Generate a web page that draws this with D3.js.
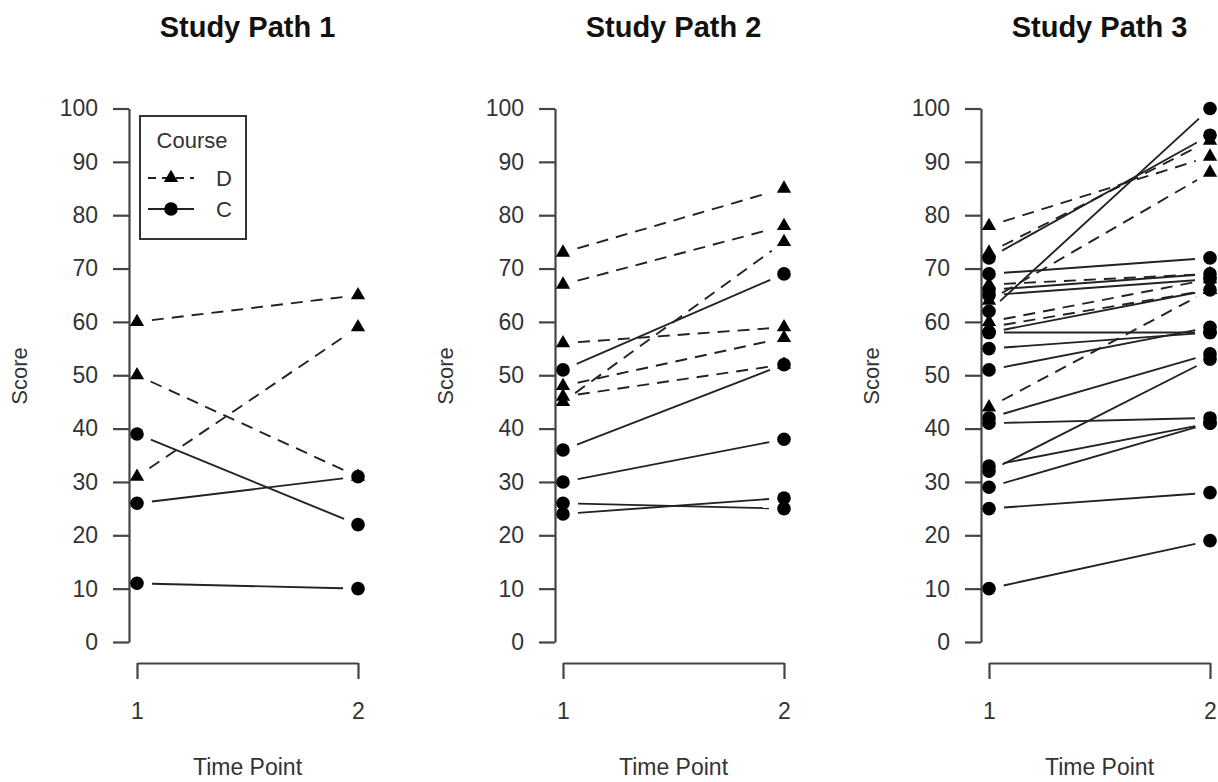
<!DOCTYPE html>
<html lang="en">
<head>
<meta charset="UTF-8">
<title>Study Paths</title>
<script src="https://d3js.org/d3.v7.min.js"></script>
<style>
    body { margin: 0; background: #fff; }
    text { font-family: "Liberation Sans", Arial, sans-serif; fill: #333; }
    .title { font-weight: bold; font-size: 29px; fill: #111; }
    .axis text { font-size: 23px; fill: #333; font-family: "Liberation Sans", Arial, sans-serif; }
    .axis path, .axis line { stroke: #444; stroke-width: 2.2; }
    .lab { font-size: 22px; }
</style>
</head>
<body>
<svg width="1218" height="782"></svg>

<script>
    // titles and ticks
    const panelTitles = ["Study Path 1", "Study Path 2", "Study Path 3"];
    const timePoints = [1, 2];
    const yTickValues = [0, 10, 20, 30, 40, 50, 60, 70, 80, 90, 100];
    const legendLabels = ["D", "C"];

    // [score at time 1, score at time 2], course D (dashed) and C (solid)
    const path1D = [[60, 65], [50, 31], [31, 59]];
    const path1C = [[39, 22], [26, 31], [11, 10]];

    const path2D = [[73, 85], [67, 78], [56, 59], [48, 57], [46, 52], [45, 75]];
    const path2C = [[51, 69], [36, 52], [30, 38], [26, 25], [24, 27]];

    const path3D = [[78, 91], [73, 94], [64, 88], [67, 69], [60, 68], [59, 66], [44, 66]];
    const path3C = [[72, 95], [62, 100], [69, 72], [66, 69], [65, 68], [58, 66], [58, 58],
                    [55, 58], [51, 59], [42, 54], [41, 42], [33, 41], [32, 53], [29, 41],
                    [25, 28], [10, 19]];

    const panelsD = [path1D, path2D, path3D];
    const panelsC = [path1C, path2C, path3C];

    const svg = d3.select("svg");
    svg.append("rect").attr("width", 1218).attr("height", 782).attr("fill", "#fff");

    const shift = 426;
    const x = d3.scaleLinear().domain([1, 2]).range([137, 358]);
    const y = d3.scaleLinear().domain([0, 100]).range([642, 108.5]);

    const gap = 15;
    const triangle = d3.symbol().type(d3.symbolTriangle).size(88);

    // segment between two points, shortened at both ends (like type="b")
    function gapped(x1, y1, x2, y2) {
        const dx = x2 - x1, dy = y2 - y1, len = Math.hypot(dx, dy);
        const ux = dx / len, uy = dy / len;
        return [x1 + ux * gap, y1 + uy * gap, x2 - ux * gap, y2 - uy * gap];
    }

    panelTitles.forEach(function (title, i) {
        const g = svg.append("g").attr("transform", "translate(" + (i * shift) + ",0)");

        g.append("text").attr("class", "title")
            .attr("x", (x(1) + x(2)) / 2).attr("y", 37)
            .attr("text-anchor", "middle").text(title);

        g.append("g").attr("class", "axis")
            .attr("transform", "translate(129,0)")
            .call(d3.axisLeft(y).tickValues(yTickValues).tickSize(16)
                .tickSizeOuter(0).tickPadding(15));

        g.append("g").attr("class", "axis")
            .attr("transform", "translate(0,663)")
            .call(d3.axisBottom(x).tickValues(timePoints).tickSize(16)
                .tickSizeOuter(0).tickPadding(24).tickFormat(d3.format("d")));

        g.append("text").attr("class", "lab")
            .attr("transform", "translate(27,376) rotate(-90)")
            .attr("text-anchor", "middle").text("Score");

        g.append("text").attr("class", "lab").style("font-size", "23px")
            .attr("x", (x(1) + x(2)) / 2).attr("y", 775)
            .attr("text-anchor", "middle").text("Time Point");

        const series = [
            {data: panelsD[i], dash: "12,8", mark: "tri"},
            {data: panelsC[i], dash: null, mark: "dot"}
        ];

        series.forEach(function (s) {
            g.append("g").selectAll("line")
                .data(s.data)
                .enter().append("line")
                .each(function (d) {
                    const p = gapped(x(1), y(d[0]), x(2), y(d[1]));
                    d3.select(this).attr("x1", p[0]).attr("y1", p[1])
                        .attr("x2", p[2]).attr("y2", p[3]);
                })
                .attr("stroke", "#222")
                .attr("stroke-width", 1.9)
                .attr("stroke-dasharray", s.dash);
        });

        series.forEach(function (s) {
            const pts = [];
            s.data.forEach(function (d) {
                pts.push([1, d[0]]);
                pts.push([2, d[1]]);
            });
            const mg = g.append("g");
            if (s.mark === "tri") {
                mg.selectAll("path").data(pts).enter().append("path")
                    .attr("d", triangle)
                    .attr("transform", function (d) { return "translate(" + x(d[0]) + "," + y(d[1]) + ")"; })
                    .attr("fill", "#000");
            } else {
                mg.selectAll("circle").data(pts).enter().append("circle")
                    .attr("cx", function (d) { return x(d[0]); })
                    .attr("cy", function (d) { return y(d[1]); })
                    .attr("r", 6.8)
                    .attr("fill", "#000");
            }
        });
    });

    // legend (first panel)
    const lg = svg.append("g");
    lg.append("rect").attr("x", 140).attr("y", 116).attr("width", 106).attr("height", 123)
        .attr("fill", "#fff").attr("stroke", "#333").attr("stroke-width", 2);
    lg.append("text").attr("class", "lab").attr("x", 192).attr("y", 148)
        .attr("text-anchor", "middle").text("Course");

    legendLabels.forEach(function (lab, k) {
        const ly = 178 + k * 31;
        lg.append("line").attr("x1", 148).attr("x2", 194).attr("y1", ly).attr("y2", ly)
            .attr("stroke", "#222").attr("stroke-width", 1.9)
            .attr("stroke-dasharray", k === 0 ? "8,6" : null);
        if (k === 0) {
            lg.append("path").attr("d", triangle).attr("fill", "#000")
                .attr("transform", "translate(171," + ly + ")");
        } else {
            lg.append("circle").attr("cx", 171).attr("cy", ly).attr("r", 6.8).attr("fill", "#000");
        }
        lg.append("text").attr("class", "lab").attr("x", 224).attr("y", ly + 8)
            .attr("text-anchor", "middle").text(lab);
    });
</script>
</body>
</html>
